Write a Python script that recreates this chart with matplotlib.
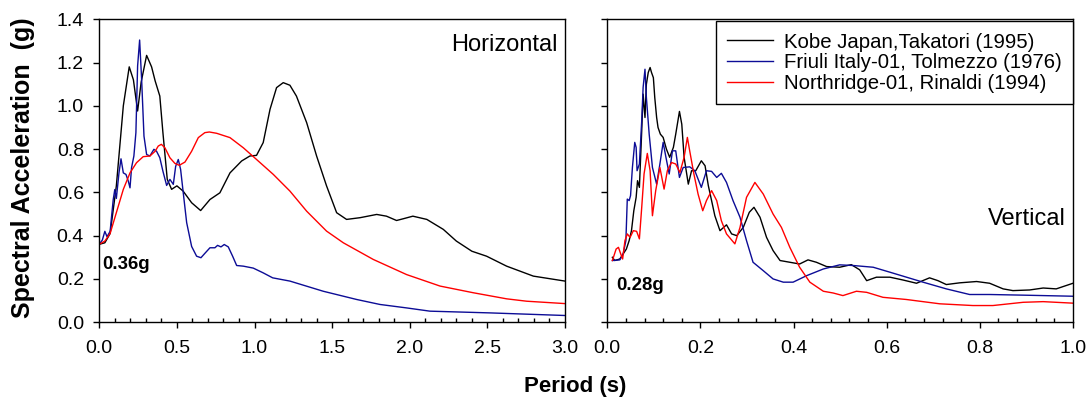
import matplotlib
matplotlib.use("Agg")
import matplotlib.pyplot as plt
from matplotlib.ticker import MultipleLocator

plt.rcParams['font.family'] = ['Liberation Sans', 'DejaVu Sans']

# Horizontal spectra (period s, Sa g)
kobe_h_T = [0, 0.036, 0.07, 0.11, 0.155, 0.193, 0.22, 0.247, 0.27, 0.305, 0.337, 0.36, 0.39,
            0.41, 0.438, 0.466, 0.50, 0.54, 0.595, 0.653, 0.713, 0.777, 0.842, 0.917, 0.97,
            1.013, 1.056, 1.10, 1.142, 1.185, 1.228, 1.27, 1.336, 1.40, 1.464, 1.529, 1.593,
            1.68, 1.787, 1.85, 1.915, 1.958, 2.02, 2.11, 2.216, 2.30, 2.40, 2.495, 2.624,
            2.796, 3.0]
kobe_h_Sa = [0.36, 0.367, 0.41, 0.63, 1.0, 1.18, 1.12, 0.976, 1.11, 1.233, 1.18, 1.115, 1.045,
             0.876, 0.66, 0.614, 0.63, 0.606, 0.552, 0.516, 0.567, 0.598, 0.69, 0.745, 0.768,
             0.771, 0.83, 0.984, 1.084, 1.107, 1.095, 1.045, 0.922, 0.768, 0.63, 0.506, 0.475,
             0.483, 0.498, 0.49, 0.47, 0.478, 0.49, 0.475, 0.429, 0.375, 0.328, 0.305, 0.259,
             0.213, 0.19]

friuli_h_T = [0, 0.02, 0.036, 0.05, 0.07, 0.09, 0.10, 0.11, 0.127, 0.14, 0.155, 0.172, 0.187,
              0.198, 0.208, 0.223, 0.236, 0.247, 0.26, 0.273, 0.288, 0.305, 0.326, 0.352, 0.369,
              0.39, 0.41, 0.434, 0.455, 0.477, 0.492, 0.509, 0.524, 0.541, 0.563, 0.595, 0.627,
              0.655, 0.68, 0.713, 0.745, 0.762, 0.784, 0.805, 0.831, 0.859, 0.885, 0.928, 0.992,
              1.056, 1.117, 1.228, 1.443, 1.658, 1.808, 1.98, 2.13, 2.517, 3.0]
friuli_h_Sa = [0.36, 0.38, 0.42, 0.395, 0.42, 0.567, 0.613, 0.572, 0.69, 0.755, 0.69, 0.683,
               0.652, 0.621, 0.714, 0.768, 0.876, 1.184, 1.304, 1.12, 0.86, 0.775, 0.768, 0.799,
               0.79, 0.76, 0.698, 0.632, 0.66, 0.637, 0.72, 0.752, 0.706, 0.598, 0.46, 0.35,
               0.305, 0.298, 0.318, 0.344, 0.344, 0.355, 0.348, 0.359, 0.348, 0.305, 0.262,
               0.259, 0.25, 0.228, 0.205, 0.19, 0.143, 0.105, 0.082, 0.066, 0.051, 0.043, 0.031]

north_h_T = [0, 0.036, 0.07, 0.11, 0.155, 0.198, 0.24, 0.283, 0.326, 0.36, 0.38, 0.40, 0.423,
             0.455, 0.487, 0.515, 0.552, 0.595, 0.638, 0.68, 0.709, 0.756, 0.842, 0.928, 1.013,
             1.121, 1.228, 1.336, 1.464, 1.572, 1.765, 1.98, 2.195, 2.41, 2.624, 2.753, 3.0]
north_h_Sa = [0.36, 0.375, 0.41, 0.506, 0.614, 0.69, 0.737, 0.765, 0.768, 0.79, 0.814, 0.822,
              0.806, 0.76, 0.734, 0.725, 0.74, 0.79, 0.853, 0.876, 0.879, 0.873, 0.853, 0.806,
              0.752, 0.683, 0.606, 0.513, 0.421, 0.367, 0.29, 0.22, 0.167, 0.136, 0.108, 0.097,
              0.086]

# Vertical spectra
kobe_v_T = [0.011, 0.016, 0.027, 0.034, 0.041, 0.047, 0.052, 0.057, 0.062, 0.065, 0.069, 0.074,
            0.077, 0.081, 0.084, 0.088, 0.092, 0.095, 0.099, 0.102, 0.106, 0.109, 0.114, 0.12,
            0.127, 0.134, 0.142, 0.147, 0.155, 0.16, 0.165, 0.174, 0.181, 0.19, 0.202, 0.21,
            0.217, 0.224, 0.231, 0.242, 0.256, 0.267, 0.278, 0.292, 0.305, 0.315, 0.328, 0.342,
            0.356, 0.371, 0.392, 0.413, 0.431, 0.449, 0.471, 0.499, 0.524, 0.542, 0.557, 0.578,
            0.607, 0.635, 0.664, 0.692, 0.71, 0.728, 0.757, 0.793, 0.821, 0.85, 0.871, 0.907,
            0.936, 0.964, 1.0]
kobe_v_Sa = [0.30, 0.285, 0.292, 0.315, 0.338, 0.377, 0.423, 0.515, 0.577, 0.654, 0.623, 0.885,
             1.054, 0.946, 1.10, 1.154, 1.177, 1.154, 1.13, 1.038, 0.946, 0.90, 0.869, 0.854,
             0.80, 0.762, 0.808, 0.869, 0.974, 0.915, 0.762, 0.638, 0.70, 0.70, 0.746, 0.723,
             0.631, 0.562, 0.492, 0.423, 0.45, 0.408, 0.40, 0.438, 0.508, 0.531, 0.485, 0.392,
             0.331, 0.285, 0.277, 0.269, 0.288, 0.277, 0.257, 0.254, 0.266, 0.242, 0.192, 0.208,
             0.208, 0.195, 0.18, 0.205, 0.192, 0.174, 0.182, 0.188, 0.18, 0.154, 0.146, 0.149,
             0.158, 0.154, 0.18]

friuli_v_T = [0.011, 0.027, 0.034, 0.04, 0.043, 0.047, 0.05, 0.054, 0.059, 0.062, 0.064, 0.069,
              0.074, 0.077, 0.081, 0.084, 0.09, 0.097, 0.106, 0.113, 0.12, 0.126, 0.133, 0.14,
              0.147, 0.155, 0.163, 0.177, 0.188, 0.202, 0.213, 0.224, 0.235, 0.245, 0.256, 0.27,
              0.285, 0.299, 0.313, 0.335, 0.356, 0.378, 0.399, 0.428, 0.464, 0.499, 0.528, 0.571,
              0.607, 0.678, 0.728, 0.778, 0.821, 0.893, 1.0]
friuli_v_Sa = [0.285, 0.288, 0.315, 0.377, 0.569, 0.562, 0.585, 0.715, 0.831, 0.808, 0.70,
               0.731, 0.931, 1.085, 1.169, 1.038, 0.869, 0.715, 0.638, 0.731, 0.831, 0.762,
               0.685, 0.792, 0.792, 0.669, 0.715, 0.718, 0.70, 0.623, 0.70, 0.697, 0.669, 0.688,
               0.646, 0.562, 0.485, 0.377, 0.277, 0.238, 0.20, 0.185, 0.185, 0.215, 0.246, 0.265,
               0.262, 0.254, 0.231, 0.185, 0.154, 0.128, 0.128, 0.125, 0.12]

north_v_T = [0.011, 0.019, 0.024, 0.029, 0.033, 0.038, 0.043, 0.049, 0.056, 0.063, 0.069, 0.074,
             0.079, 0.086, 0.092, 0.097, 0.104, 0.113, 0.122, 0.129, 0.138, 0.147, 0.156, 0.165,
             0.172, 0.177, 0.186, 0.195, 0.205, 0.213, 0.224, 0.235, 0.245, 0.256, 0.274, 0.285,
             0.299, 0.317, 0.335, 0.356, 0.374, 0.392, 0.413, 0.435, 0.464, 0.485, 0.506, 0.535,
             0.557, 0.592, 0.642, 0.714, 0.785, 0.828, 0.893, 0.936, 1.0]
north_v_Sa = [0.285, 0.338, 0.346, 0.315, 0.292, 0.377, 0.408, 0.392, 0.423, 0.42, 0.385, 0.531,
              0.685, 0.78, 0.70, 0.492, 0.608, 0.715, 0.615, 0.70, 0.738, 0.731, 0.692, 0.762,
              0.854, 0.792, 0.685, 0.592, 0.515, 0.562, 0.608, 0.562, 0.469, 0.408, 0.362, 0.438,
              0.577, 0.646, 0.592, 0.50, 0.438, 0.346, 0.254, 0.185, 0.143, 0.135, 0.123, 0.143,
              0.138, 0.115, 0.105, 0.085, 0.077, 0.077, 0.092, 0.095, 0.088]

labels = ["Kobe Japan,Takatori (1995)", "Friuli Italy-01, Tolmezzo (1976)",
          "Northridge-01, Rinaldi (1994)"]
colors = ["black", "#0c0c96", "#ff0000"]

fig = plt.figure(figsize=(10.92, 4.01), dpi=100)
ax1 = fig.add_axes([0.0909, 0.1965, 0.4265, 0.7555])
ax2 = fig.add_axes([0.5561, 0.1965, 0.4265, 0.7555])

lw = 1.0
ax1.plot(kobe_h_T, kobe_h_Sa, color=colors[0], lw=lw)
ax1.plot(friuli_h_T, friuli_h_Sa, color=colors[1], lw=lw)
ax1.plot(north_h_T, north_h_Sa, color=colors[2], lw=lw)

ax2.plot(kobe_v_T, kobe_v_Sa, color=colors[0], lw=lw, label=labels[0])
ax2.plot(friuli_v_T, friuli_v_Sa, color=colors[1], lw=lw, label=labels[1])
ax2.plot(north_v_T, north_v_Sa, color=colors[2], lw=lw, label=labels[2])

for ax in (ax1, ax2):
    ax.set_ylim(0, 1.4)
    ax.yaxis.set_major_locator(MultipleLocator(0.2))
    for s in ax.spines.values():
        s.set_linewidth(1.0)
        s.set_color("black")
    ax.tick_params(axis="y", which="major", direction="out", length=4.5, width=1.0,
                   labelsize=14, pad=6.5)
    ax.tick_params(axis="x", which="major", direction="out", length=4.5, width=1.0,
                   labelsize=14, pad=8.5)
    ax.tick_params(axis="x", which="minor", direction="in", length=3, width=1.0)

ax1.set_xlim(0, 3.0)
ax1.xaxis.set_major_locator(MultipleLocator(0.5))
ax1.xaxis.set_minor_locator(MultipleLocator(0.1))
ax1.set_yticks([0, 0.2, 0.4, 0.6, 0.8, 1.0, 1.2, 1.4])
ax1.set_yticklabels(["0.0", "0.2", "0.4", "0.6", "0.8", "1.0", "1.2", "1.4"])
ax1.set_xticks([0, 0.5, 1.0, 1.5, 2.0, 2.5, 3.0])
ax1.set_xticklabels(["0.0", "0.5", "1.0", "1.5", "2.0", "2.5", "3.0"])

ax2.set_xlim(0, 1.0)
ax2.xaxis.set_minor_locator(MultipleLocator(0.04))
ax2.set_xticks([0, 0.2, 0.4, 0.6, 0.8, 1.0])
ax2.set_xticklabels(["0.0", "0.2", "0.4", "0.6", "0.8", "1.0"])
ax2.tick_params(axis="y", labelleft=False)

ax1.text(0.985, 0.895, "Horizontal", transform=ax1.transAxes, ha="right", va="baseline",
         fontsize=17)
ax2.text(0.985, 0.322, "Vertical", transform=ax2.transAxes, ha="right", va="baseline",
         fontsize=17)
ax1.text(0.007, 0.174, "0.36g", transform=ax1.transAxes, ha="left", va="baseline",
         fontsize=13.4, fontweight="bold")
ax2.text(0.020, 0.105, "0.28g", transform=ax2.transAxes, ha="left", va="baseline",
         fontsize=13.4, fontweight="bold")

leg = ax2.legend(loc="upper right", bbox_to_anchor=(1.0, 0.993), fontsize=14.7,
                 frameon=True, fancybox=False, edgecolor="black", framealpha=1,
                 handlelength=2.25, handletextpad=0.55, labelspacing=0.08,
                 borderpad=0.55, borderaxespad=0.0)
leg.get_frame().set_linewidth(1.0)

fig.text(0.021, 0.583, "Spectral Acceleration  (g)", rotation=90, ha="center", va="center",
         fontsize=18, fontweight="bold")
fig.text(0.527, 0.037, "Period (s)", ha="center", va="center", fontsize=16, fontweight="bold")

fig.savefig("out.png", dpi=100)
